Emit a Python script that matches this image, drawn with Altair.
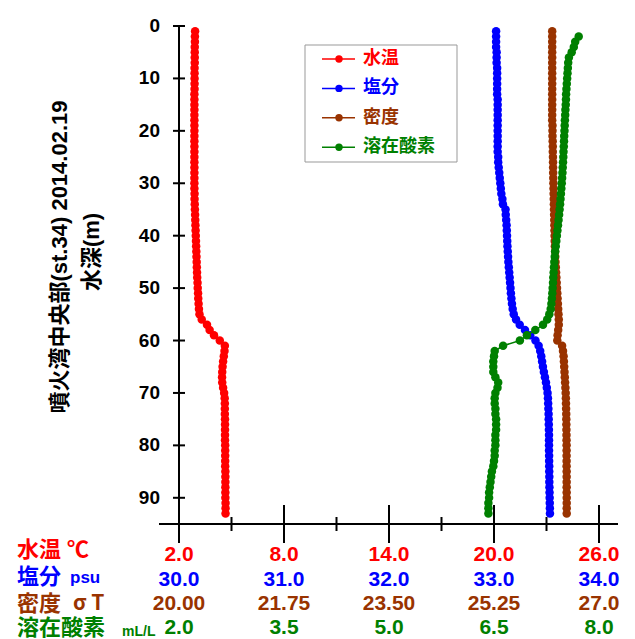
import altair as alt
import pandas as pd

# ---------------- data ----------------
depth = list(range(1, 94))
temp = [2.92, 2.91, 2.91, 2.90, 2.90, 2.90, 2.90, 2.89, 2.89, 2.89,
        2.89, 2.89, 2.88, 2.88, 2.88, 2.88, 2.88, 2.88, 2.88, 2.88,
        2.88, 2.88, 2.88, 2.88, 2.88, 2.88, 2.88, 2.88, 2.88, 2.88,
        2.88, 2.89, 2.89, 2.90, 2.91, 2.92, 2.93, 2.94, 2.95, 2.96,
        2.97, 2.98, 2.99, 3.00, 3.01, 3.02, 3.03, 3.04, 3.06, 3.07,
        3.09, 3.10, 3.12, 3.14, 3.17, 3.30, 3.60, 3.75, 4.00, 4.33,
        4.62, 4.60, 4.56, 4.52, 4.49, 4.47, 4.46, 4.47, 4.52, 4.58,
        4.61, 4.62, 4.62, 4.62, 4.63, 4.63, 4.63, 4.63, 4.63, 4.64,
        4.64, 4.64, 4.64, 4.64, 4.65, 4.65, 4.65, 4.65, 4.65, 4.65,
        4.66, 4.66, 4.66]
sal = [33.020, 33.020, 33.020, 33.020, 33.025, 33.025, 33.025, 33.030, 33.030, 33.030,
       33.030, 33.030, 33.030, 33.035, 33.035, 33.035, 33.035, 33.035, 33.035, 33.035,
       33.035, 33.035, 33.035, 33.035, 33.040, 33.040, 33.045, 33.050, 33.055, 33.060,
       33.065, 33.070, 33.080, 33.085, 33.110, 33.112, 33.116, 33.120, 33.122, 33.124,
       33.126, 33.128, 33.131, 33.134, 33.137, 33.141, 33.145, 33.149, 33.153, 33.157,
       33.161, 33.166, 33.171, 33.178, 33.188, 33.210, 33.245, 33.295, 33.345, 33.395,
       33.425, 33.440, 33.450, 33.458, 33.466, 33.475, 33.485, 33.495, 33.503, 33.510,
       33.514, 33.516, 33.518, 33.520, 33.521, 33.522, 33.523, 33.524, 33.524, 33.524,
       33.524, 33.525, 33.525, 33.526, 33.526, 33.527, 33.527, 33.528, 33.529, 33.530,
       33.531, 33.532, 33.533]
dens = [26.220, 26.220, 26.220, 26.220, 26.220, 26.220, 26.220, 26.220, 26.220, 26.220,
        26.220, 26.220, 26.220, 26.220, 26.220, 26.220, 26.220, 26.220, 26.225, 26.225,
        26.225, 26.228, 26.230, 26.230, 26.232, 26.234, 26.235, 26.236, 26.238, 26.240,
        26.242, 26.244, 26.246, 26.248, 26.250, 26.252, 26.254, 26.256, 26.258, 26.260,
        26.262, 26.265, 26.268, 26.271, 26.275, 26.280, 26.285, 26.290, 26.295, 26.300,
        26.305, 26.310, 26.315, 26.320, 26.325, 26.330, 26.330, 26.320, 26.310, 26.305,
        26.385, 26.400, 26.410, 26.415, 26.420, 26.425, 26.430, 26.435, 26.440, 26.445,
        26.448, 26.450, 26.452, 26.454, 26.455, 26.456, 26.457, 26.458, 26.459, 26.460,
        26.460, 26.460, 26.460, 26.460, 26.461, 26.461, 26.461, 26.461, 26.461, 26.462,
        26.462, 26.462, 26.462]
do_depth = list(range(2, 94))
do_val = [7.71, 7.66, 7.64, 7.61, 7.57, 7.56, 7.555, 7.55, 7.545,
          7.540, 7.535, 7.530, 7.528, 7.525, 7.520, 7.517, 7.513, 7.510, 7.507,
          7.503, 7.500, 7.497, 7.493, 7.490, 7.486, 7.482, 7.478, 7.473, 7.468,
          7.462, 7.456, 7.450, 7.444, 7.437, 7.430, 7.422, 7.414, 7.406, 7.398,
          7.390, 7.382, 7.374, 7.368, 7.362, 7.357, 7.352, 7.347, 7.343, 7.338,
          7.333, 7.327, 7.320, 7.310, 7.290, 7.260, 7.20, 7.09, 6.97, 6.87,
          6.63, 6.51, 6.50, 6.49, 6.49, 6.49, 6.52, 6.56, 6.55, 6.52,
          6.51, 6.51, 6.52, 6.52, 6.53, 6.53, 6.53, 6.52, 6.52, 6.52,
          6.51, 6.51, 6.50, 6.49, 6.47, 6.46, 6.45, 6.44, 6.43, 6.43,
          6.42, 6.42, 6.42]

temp_ticks = [2, 8, 14, 20, 26]
temp_labels = ["2.0", "8.0", "14.0", "20.0", "26.0"]
temp_minor = [5, 11, 17, 23]
sal_ticks = [30, 31, 32, 33, 34]
sal_labels = ["30.0", "31.0", "32.0", "33.0", "34.0"]
dens_ticks = [20, 21.75, 23.5, 25.25, 27]
dens_labels = ["20.00", "21.75", "23.50", "25.25", "27.0"]
do_ticks = [2, 3.5, 5, 6.5, 8]
do_labels = ["2.0", "3.5", "5.0", "6.5", "8.0"]
depth_ticks = [0, 10, 20, 30, 40, 50, 60, 70, 80, 90]
depth_labels = ["0", "10", "20", "30", "40", "50", "60", "70", "80", "90"]

series_names = ["水温", "塩分", "密度", "溶在酸素"]
series_colors = ["#ff0000", "#0000ff", "#993300", "#008000"]
row_titles = ["水温 ℃", "塩分", "密度", "溶在酸素"]
row_units = ["", "psu", "σ T", "mL/L"]
title_lines = ["噴火湾中央部(st.34) 2014.02.19", "水深(m)"]

# ---------------- chart ----------------
W, H = 420, 498
FONT = "Liberation Sans, Noto Sans CJK JP"
one = pd.DataFrame({"k": [0]})

yscale = alt.Scale(domain=[0, 95], reverse=True, nice=False, zero=False)


def series(df, domain, color, ticks, labels, pad, extra=()):
    xscale = alt.Scale(domain=domain, nice=False, zero=False)
    base = alt.Chart(df)
    line = base.mark_line(color=color, strokeWidth=1.5).encode(
        x=alt.X("v:Q", scale=xscale, axis=None),
        y=alt.Y("depth:Q", scale=yscale, axis=None),
        order="depth:Q",
    )
    pts = base.mark_circle(color=color, size=72, opacity=1).encode(
        x=alt.X("v:Q", scale=xscale, axis=None),
        y=alt.Y("depth:Q", scale=yscale, axis=None),
    )
    labs = alt.Chart(pd.DataFrame({"t": ticks, "lab": labels})).mark_text(
        color=color, font=FONT, fontSize=21, fontWeight="bold",
        align="center", baseline="middle").encode(
        x=alt.X("t:Q", scale=xscale, axis=None),
        y=alt.value(H + pad),
        text="lab:N",
    )
    layers = [line, pts, labs]
    for e in extra:
        layers.append(e(xscale))
    return alt.layer(*layers)


def major_ticks(xscale):
    return alt.Chart(pd.DataFrame({"t": temp_ticks})).mark_rule(color="black", strokeWidth=2).encode(
        x=alt.X("t:Q", scale=xscale, axis=None), y=alt.value(H - 19), y2=alt.value(H + 19))


def minor_ticks(xscale):
    return alt.Chart(pd.DataFrame({"t": temp_minor})).mark_rule(color="black", strokeWidth=2).encode(
        x=alt.X("t:Q", scale=xscale, axis=None), y=alt.value(H - 7), y2=alt.value(H + 7))


temp_layer = series(pd.DataFrame({"depth": depth, "v": temp}), [2, 26],
                    series_colors[0], temp_ticks, temp_labels, 31,
                    extra=(major_ticks, minor_ticks))
sal_layer = series(pd.DataFrame({"depth": depth, "v": sal}), [30, 34],
                   series_colors[1], sal_ticks, sal_labels, 56)
dens_layer = series(pd.DataFrame({"depth": depth, "v": dens}), [20, 27],
                    series_colors[2], dens_ticks, dens_labels, 80)
do_layer = series(pd.DataFrame({"depth": do_depth, "v": do_val}), [2, 8],
                  series_colors[3], do_ticks, do_labels, 104)

ytick_df = pd.DataFrame({"d": depth_ticks, "lab": depth_labels})
ytick_layer = alt.Chart(ytick_df).mark_rule(color="black", strokeWidth=2).encode(
    y=alt.Y("d:Q", scale=yscale, axis=None), x=alt.value(-6), x2=alt.value(6))
ylabel_layer = alt.Chart(ytick_df).mark_text(
    color="black", font=FONT, fontSize=19, fontWeight="bold",
    align="right", baseline="middle").encode(
    y=alt.Y("d:Q", scale=yscale, axis=None), x=alt.value(-19), text="lab:N")
yaxis_line = alt.Chart(one).mark_rule(color="black", strokeWidth=2).encode(
    x=alt.value(0), y=alt.value(0), y2=alt.value(H))
xaxis_line = alt.Chart(one).mark_rule(color="black", strokeWidth=2).encode(
    x=alt.value(-20), x2=alt.value(W + 19), y=alt.value(H))


def text(s, x, y, color="black", size=22, font=FONT, angle=None, align="left"):
    kw = dict(text=s, color=color, fontSize=size, fontWeight="bold", font=font,
              align=align, baseline="middle")
    if angle is not None:
        kw["angle"] = angle
    return alt.Chart(one).mark_text(**kw).encode(x=alt.value(x), y=alt.value(y))


texts = []
# y title (two rotated lines)
texts.append(text(title_lines[0], -119, 231, size=22, angle=270, align="center"))
texts.append(text(title_lines[1], -87, 226, size=22, angle=270, align="center"))
# row titles below x axis
row_y = [524, 551, 578, 602]
for i in range(4):
    texts.append(text(row_titles[i], -162, row_y[i], color=series_colors[i], size=22))
texts.append(text(row_units[1], -109, 552, color=series_colors[1], size=17))
texts.append(text(row_units[2], -106, 578, color=series_colors[2], size=21, font="Noto Sans CJK JP"))
texts.append(text(row_units[3], -57, 606, color=series_colors[3], size=14))

# legend (manual)
legend = [alt.Chart(one).mark_rect(fill="white", stroke="#999999", strokeWidth=1).encode(
    x=alt.value(126), x2=alt.value(278), y=alt.value(19), y2=alt.value(136))]
for i, (name, col) in enumerate(zip(series_names, series_colors)):
    ly = 33 + i * 29.4
    legend.append(alt.Chart(one).mark_rule(color=col, strokeWidth=1.5).encode(
        x=alt.value(143), x2=alt.value(176), y=alt.value(ly)))
    legend.append(alt.Chart(one).mark_circle(color=col, size=55, opacity=1).encode(
        x=alt.value(160), y=alt.value(ly)))
    legend.append(text(name, 184, ly, color=col, size=18))

chart = alt.layer(
    temp_layer, sal_layer, dens_layer, do_layer,
    ytick_layer, ylabel_layer, yaxis_line, xaxis_line, *texts, *legend
).resolve_scale(x="independent").properties(
    width=W, height=H,
    padding={"left": 171, "top": 18, "right": 28, "bottom": 115},
    autosize=alt.AutoSizeParams(type="none"),
).configure_view(stroke=None)

chart.save("out.html", embed_options={"renderer": "svg", "actions": False})
